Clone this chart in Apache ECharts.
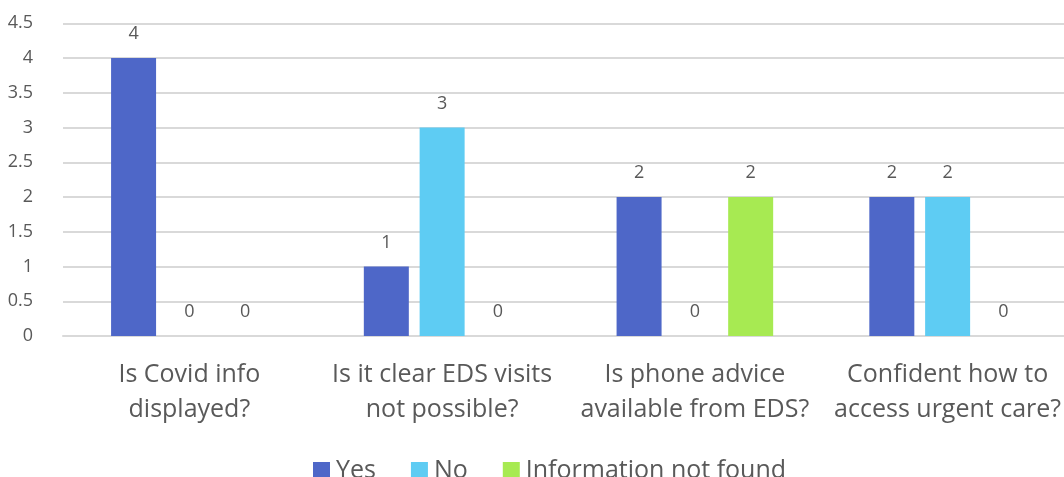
<!DOCTYPE html>
<html>
<head>
<meta charset="utf-8">
<script src="https://cdn.jsdelivr.net/npm/echarts@6/dist/echarts.min.js"></script>
<style>
  html, body { margin: 0; padding: 0; background: #fff; overflow: hidden; }
  #chart { width: 1064px; height: 477px; }
</style>
</head>
<body>
<div id="chart"></div>
<script>
// Survey questions and answer counts
const categories = [
  'Is Covid info\ndisplayed?',
  'Is it clear EDS visits\nnot possible?',
  'Is phone advice\navailable from EDS?',
  'Confident how to\naccess urgent care?'
];
const seriesNames = ['Yes', 'No', 'Information not found'];
const yesValues = [4, 1, 2, 2];
const noValues = [0, 3, 0, 2];
const notFoundValues = [0, 0, 2, 0];
const yTicks = [0, 0.5, 1, 1.5, 2, 2.5, 3, 3.5, 4, 4.5];

const colors = ['#4E67C8', '#5ECCF3', '#A7EA52'];
const textColor = '#595959';
const fontFamily = '"Open Sans", "Noto Sans", sans-serif';

const chart = echarts.init(document.getElementById('chart'));

function makeSeries(name, data, color) {
  return {
    name: name,
    type: 'bar',
    data: data,
    barWidth: 45,
    barGap: '24%',
    itemStyle: { color: color },
    label: {
      show: true,
      position: 'top',
      distance: 15,
      color: textColor,
      fontSize: 18,
      fontFamily: fontFamily
    }
  };
}

// The plot area runs slightly past the right edge of the canvas
chart.setOption({
  animation: false,
  textStyle: { fontFamily: fontFamily },
  grid: {
    left: 63, width: 1011, top: 23.25, bottom: 141,
    containLabel: false, outerBoundsMode: 'none'
  },
  legend: {
    top: 458,
    left: 313,
    padding: 0,
    itemWidth: 17,
    itemHeight: 17,
    itemGap: 35,
    icon: 'rect',
    textStyle: { color: textColor, fontSize: 25, fontFamily: fontFamily, padding: [0, 0, 0, 1] },
    data: seriesNames
  },
  xAxis: {
    type: 'category',
    data: categories,
    axisLine: { show: true, lineStyle: { color: '#D9D9D9', width: 2 } },
    axisTick: { show: false },
    axisLabel: {
      interval: 0,
      color: textColor,
      fontSize: 25,
      lineHeight: 35,
      margin: 21,
      fontFamily: fontFamily
    }
  },
  yAxis: {
    type: 'value',
    min: yTicks[0],
    max: yTicks[yTicks.length - 1],
    interval: 0.5,
    axisLine: { show: false },
    axisTick: { show: false },
    splitLine: { lineStyle: { color: '#D9D9D9', width: 2 } },
    axisLabel: {
      color: textColor,
      fontSize: 18,
      margin: 30,
      fontFamily: fontFamily
    }
  },
  series: [
    makeSeries(seriesNames[0], yesValues, colors[0]),
    makeSeries(seriesNames[1], noValues, colors[1]),
    makeSeries(seriesNames[2], notFoundValues, colors[2])
  ]
});
</script>
</body>
</html>
